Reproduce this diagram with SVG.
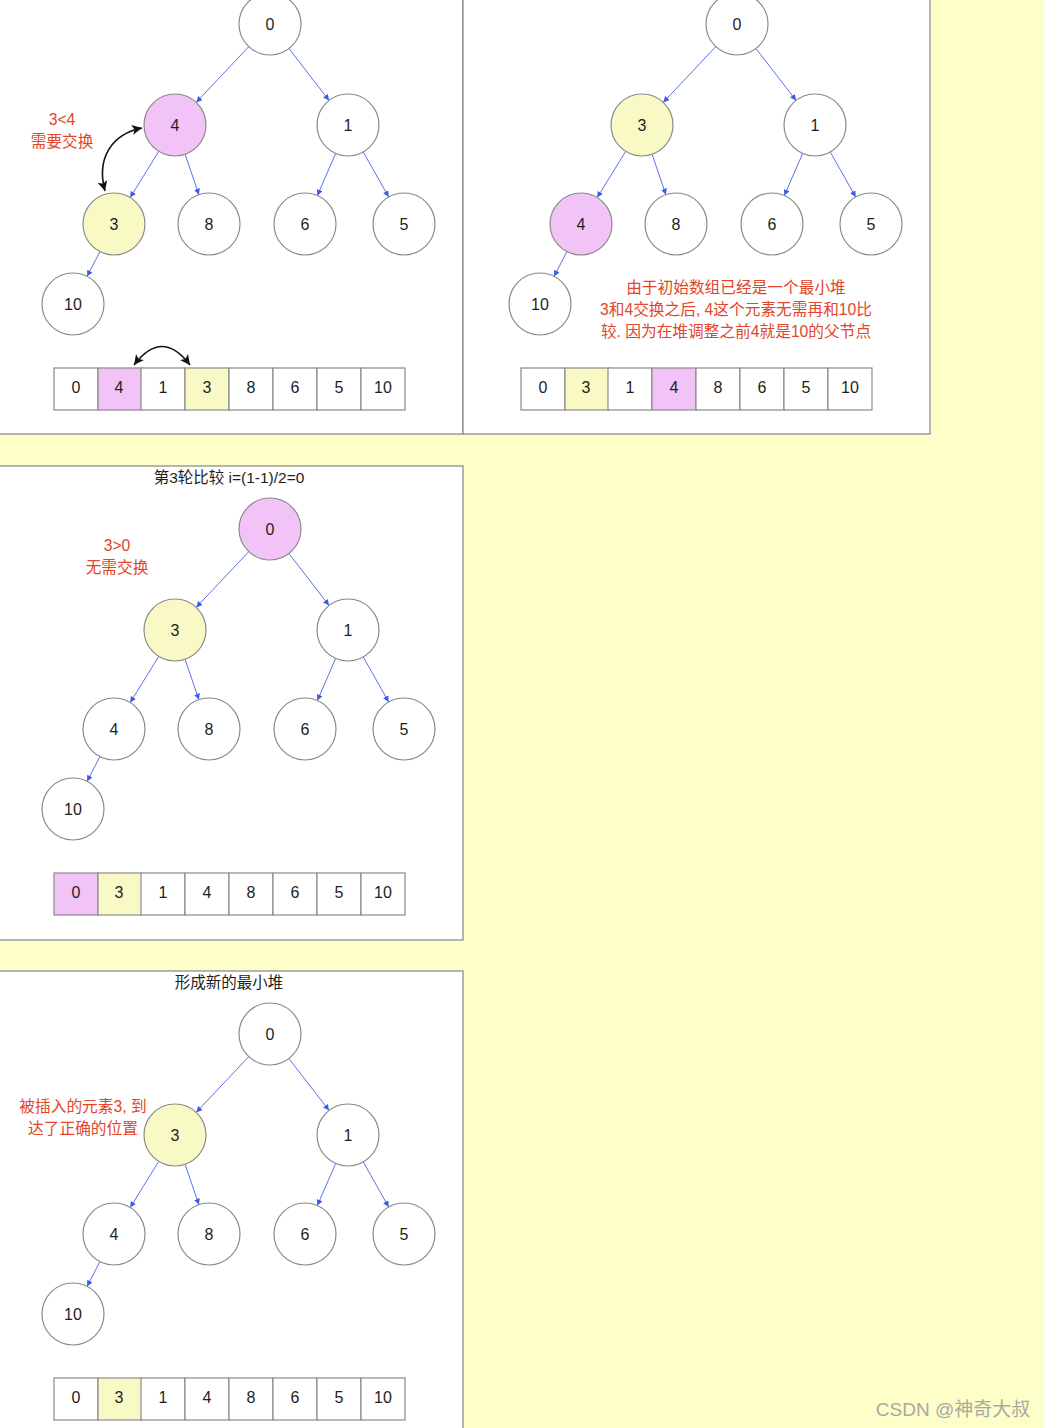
<svg xmlns="http://www.w3.org/2000/svg" width="1044" height="1428" viewBox="0 0 1044 1428">
<defs>
<style>
.bg{fill:#fefec9}
.panel{fill:#ffffff;stroke:#8e8e8e;stroke-width:1.3}
.n{fill:#ffffff;stroke:#8a8a8a;stroke-width:1.2}
.c{fill:#ffffff;stroke:#8a8a8a;stroke-width:1.2}
.pk{fill:#f1c3f6}
.yl{fill:#f9f9c6}
.t{font-family:"Liberation Sans","Noto Sans CJK SC",sans-serif;font-size:16px;fill:#1e1e1e;text-anchor:middle;dominant-baseline:central}
.red{font-family:"Liberation Sans","Noto Sans CJK SC",sans-serif;font-size:15.7px;fill:#e2452b;text-anchor:middle;dominant-baseline:central}
.ttl{font-family:"Liberation Sans","Noto Sans CJK SC",sans-serif;font-size:15.5px;fill:#1e1e1e;text-anchor:middle;dominant-baseline:central}
.e{stroke:#5a72ee;stroke-width:1;fill:none;marker-end:url(#ab)}
.sw{stroke:#111;stroke-width:1.6;fill:none;marker-start:url(#ak);marker-end:url(#ak)}
.wm{font-family:"Liberation Sans","Noto Sans CJK SC",sans-serif;font-size:19px;fill:#a9a9a3;text-anchor:middle;dominant-baseline:central}
</style>
<marker id="ab" markerUnits="userSpaceOnUse" markerWidth="8" markerHeight="8" refX="6" refY="3" orient="auto"><path d="M0,0 L6,3 L0,6 Z" fill="#3b5bea"/></marker>
<marker id="ak" markerUnits="userSpaceOnUse" markerWidth="12" markerHeight="12" refX="10" refY="5" orient="auto-start-reverse"><path d="M0,0 L10,5 L0,10 L2.5,5 Z" fill="#111"/></marker>
</defs>
<rect class="bg" x="0" y="0" width="1044" height="1428"/>

<!-- Panel 1 -->
<g id="panel1">
<rect class="panel" x="-2" y="-10" width="465" height="444"/>
<g id="p1-connectors">
<line class="e" x1="248.8" y1="46.6" x2="196.2" y2="102.4"/>
<line class="e" x1="288.9" y1="48.5" x2="329.1" y2="100.5"/>
<line class="e" x1="158.7" y1="151.4" x2="130.2" y2="197.6"/>
<line class="e" x1="185.1" y1="154.3" x2="198.9" y2="194.7"/>
<line class="e" x1="335.7" y1="153.4" x2="317.3" y2="195.6"/>
<line class="e" x1="363.3" y1="152" x2="388.7" y2="197"/>
<line class="e" x1="99.9" y1="251.6" x2="87.1" y2="276.4"/>
<path class="sw" d="M105 191 C 96 158 112 134 142 128"/>
<path class="sw" d="M134 365 Q 162 328 190 365"/>
</g>
<g id="p1-n0"><circle class="n" cx="270" cy="24" r="31"/><text class="t" x="270" y="24">0</text></g>
<g id="p1-n4"><circle class="n pk" cx="175" cy="125" r="31"/><text class="t" x="175" y="125">4</text></g>
<g id="p1-n1"><circle class="n" cx="348" cy="125" r="31"/><text class="t" x="348" y="125">1</text></g>
<g id="p1-n3"><circle class="n yl" cx="114" cy="224" r="31"/><text class="t" x="114" y="224">3</text></g>
<g id="p1-n8"><circle class="n" cx="209" cy="224" r="31"/><text class="t" x="209" y="224">8</text></g>
<g id="p1-n6"><circle class="n" cx="305" cy="224" r="31"/><text class="t" x="305" y="224">6</text></g>
<g id="p1-n5"><circle class="n" cx="404" cy="224" r="31"/><text class="t" x="404" y="224">5</text></g>
<g id="p1-n10"><circle class="n" cx="73" cy="304" r="31"/><text class="t" x="73" y="304">10</text></g>
<g id="p1-note"><text class="red" x="62" y="119">3&lt;4</text><text class="red" x="62" y="141">需要交换</text></g>
<g id="p1-array">
<rect class="c" x="54" y="368" width="44" height="42"/><text class="t" x="76" y="387">0</text>
<rect class="c pk" x="98" y="368" width="44" height="42"/><text class="t" x="119" y="387">4</text>
<rect class="c" x="141" y="368" width="44" height="42"/><text class="t" x="163" y="387">1</text>
<rect class="c yl" x="185" y="368" width="44" height="42"/><text class="t" x="207" y="387">3</text>
<rect class="c" x="229" y="368" width="44" height="42"/><text class="t" x="251" y="387">8</text>
<rect class="c" x="273" y="368" width="44" height="42"/><text class="t" x="295" y="387">6</text>
<rect class="c" x="317" y="368" width="44" height="42"/><text class="t" x="339" y="387">5</text>
<rect class="c" x="361" y="368" width="44" height="42"/><text class="t" x="383" y="387">10</text>
</g>
</g>

<!-- Panel 2 -->
<g id="panel2">
<rect class="panel" x="463" y="-10" width="467" height="444"/>
<g id="p2-connectors">
<line class="e" x1="715.8" y1="46.6" x2="663.2" y2="102.4"/>
<line class="e" x1="755.9" y1="48.5" x2="796.1" y2="100.5"/>
<line class="e" x1="625.7" y1="151.4" x2="597.2" y2="197.6"/>
<line class="e" x1="652.1" y1="154.3" x2="665.9" y2="194.7"/>
<line class="e" x1="802.7" y1="153.4" x2="784.3" y2="195.6"/>
<line class="e" x1="830.3" y1="152" x2="855.7" y2="197"/>
<line class="e" x1="566.9" y1="251.6" x2="554.1" y2="276.4"/>
</g>
<g id="p2-n0"><circle class="n" cx="737" cy="24" r="31"/><text class="t" x="737" y="24">0</text></g>
<g id="p2-n3"><circle class="n yl" cx="642" cy="125" r="31"/><text class="t" x="642" y="125">3</text></g>
<g id="p2-n1"><circle class="n" cx="815" cy="125" r="31"/><text class="t" x="815" y="125">1</text></g>
<g id="p2-n4"><circle class="n pk" cx="581" cy="224" r="31"/><text class="t" x="581" y="224">4</text></g>
<g id="p2-n8"><circle class="n" cx="676" cy="224" r="31"/><text class="t" x="676" y="224">8</text></g>
<g id="p2-n6"><circle class="n" cx="772" cy="224" r="31"/><text class="t" x="772" y="224">6</text></g>
<g id="p2-n5"><circle class="n" cx="871" cy="224" r="31"/><text class="t" x="871" y="224">5</text></g>
<g id="p2-n10"><circle class="n" cx="540" cy="304" r="31"/><text class="t" x="540" y="304">10</text></g>
<g id="p2-note">
<text class="red" x="736" y="287">由于初始数组已经是一个最小堆</text>
<text class="red" x="736" y="309">3和4交换之后, 4这个元素无需再和10比</text>
<text class="red" x="736" y="331">较. 因为在堆调整之前4就是10的父节点</text>
</g>
<g id="p2-array">
<rect class="c" x="521" y="368" width="44" height="42"/><text class="t" x="543" y="387">0</text>
<rect class="c yl" x="565" y="368" width="44" height="42"/><text class="t" x="586" y="387">3</text>
<rect class="c" x="608" y="368" width="44" height="42"/><text class="t" x="630" y="387">1</text>
<rect class="c pk" x="652" y="368" width="44" height="42"/><text class="t" x="674" y="387">4</text>
<rect class="c" x="696" y="368" width="44" height="42"/><text class="t" x="718" y="387">8</text>
<rect class="c" x="740" y="368" width="44" height="42"/><text class="t" x="762" y="387">6</text>
<rect class="c" x="784" y="368" width="44" height="42"/><text class="t" x="806" y="387">5</text>
<rect class="c" x="828" y="368" width="44" height="42"/><text class="t" x="850" y="387">10</text>
</g>
</g>

<!-- Panel 3 -->
<g id="panel3">
<rect class="panel" x="-2" y="466" width="465" height="474"/>
<text class="ttl" x="229" y="477">第3轮比较 i=(1-1)/2=0</text>
<g id="p3-connectors">
<line class="e" x1="248.8" y1="551.6" x2="196.2" y2="607.4"/>
<line class="e" x1="288.9" y1="553.5" x2="329.1" y2="605.5"/>
<line class="e" x1="158.7" y1="656.4" x2="130.2" y2="702.6"/>
<line class="e" x1="185.1" y1="659.3" x2="198.9" y2="699.7"/>
<line class="e" x1="335.7" y1="658.4" x2="317.3" y2="700.6"/>
<line class="e" x1="363.3" y1="657" x2="388.7" y2="702"/>
<line class="e" x1="99.9" y1="756.6" x2="87.1" y2="781.4"/>
</g>
<g id="p3-n0"><circle class="n pk" cx="270" cy="529" r="31"/><text class="t" x="270" y="529">0</text></g>
<g id="p3-n3"><circle class="n yl" cx="175" cy="630" r="31"/><text class="t" x="175" y="630">3</text></g>
<g id="p3-n1"><circle class="n" cx="348" cy="630" r="31"/><text class="t" x="348" y="630">1</text></g>
<g id="p3-n4"><circle class="n" cx="114" cy="729" r="31"/><text class="t" x="114" y="729">4</text></g>
<g id="p3-n8"><circle class="n" cx="209" cy="729" r="31"/><text class="t" x="209" y="729">8</text></g>
<g id="p3-n6"><circle class="n" cx="305" cy="729" r="31"/><text class="t" x="305" y="729">6</text></g>
<g id="p3-n5"><circle class="n" cx="404" cy="729" r="31"/><text class="t" x="404" y="729">5</text></g>
<g id="p3-n10"><circle class="n" cx="73" cy="809" r="31"/><text class="t" x="73" y="809">10</text></g>
<g id="p3-note"><text class="red" x="117" y="545">3&gt;0</text><text class="red" x="117" y="567">无需交换</text></g>
<g id="p3-array">
<rect class="c pk" x="54" y="873" width="44" height="42"/><text class="t" x="76" y="892">0</text>
<rect class="c yl" x="98" y="873" width="44" height="42"/><text class="t" x="119" y="892">3</text>
<rect class="c" x="141" y="873" width="44" height="42"/><text class="t" x="163" y="892">1</text>
<rect class="c" x="185" y="873" width="44" height="42"/><text class="t" x="207" y="892">4</text>
<rect class="c" x="229" y="873" width="44" height="42"/><text class="t" x="251" y="892">8</text>
<rect class="c" x="273" y="873" width="44" height="42"/><text class="t" x="295" y="892">6</text>
<rect class="c" x="317" y="873" width="44" height="42"/><text class="t" x="339" y="892">5</text>
<rect class="c" x="361" y="873" width="44" height="42"/><text class="t" x="383" y="892">10</text>
</g>
</g>

<!-- Panel 4 -->
<g id="panel4">
<rect class="panel" x="-2" y="971" width="465" height="470"/>
<text class="ttl" x="229" y="982">形成新的最小堆</text>
<g id="p4-connectors">
<line class="e" x1="248.8" y1="1056.6" x2="196.2" y2="1112.4"/>
<line class="e" x1="288.9" y1="1058.5" x2="329.1" y2="1110.5"/>
<line class="e" x1="158.7" y1="1161.4" x2="130.2" y2="1207.6"/>
<line class="e" x1="185.1" y1="1164.3" x2="198.9" y2="1204.7"/>
<line class="e" x1="335.7" y1="1163.4" x2="317.3" y2="1205.6"/>
<line class="e" x1="363.3" y1="1162" x2="388.7" y2="1207"/>
<line class="e" x1="99.9" y1="1261.6" x2="87.1" y2="1286.4"/>
</g>
<g id="p4-n0"><circle class="n" cx="270" cy="1034" r="31"/><text class="t" x="270" y="1034">0</text></g>
<g id="p4-n3"><circle class="n yl" cx="175" cy="1135" r="31"/><text class="t" x="175" y="1135">3</text></g>
<g id="p4-n1"><circle class="n" cx="348" cy="1135" r="31"/><text class="t" x="348" y="1135">1</text></g>
<g id="p4-n4"><circle class="n" cx="114" cy="1234" r="31"/><text class="t" x="114" y="1234">4</text></g>
<g id="p4-n8"><circle class="n" cx="209" cy="1234" r="31"/><text class="t" x="209" y="1234">8</text></g>
<g id="p4-n6"><circle class="n" cx="305" cy="1234" r="31"/><text class="t" x="305" y="1234">6</text></g>
<g id="p4-n5"><circle class="n" cx="404" cy="1234" r="31"/><text class="t" x="404" y="1234">5</text></g>
<g id="p4-n10"><circle class="n" cx="73" cy="1314" r="31"/><text class="t" x="73" y="1314">10</text></g>
<g id="p4-note"><text class="red" x="83" y="1106">被插入的元素3, 到</text><text class="red" x="83" y="1128">达了正确的位置</text></g>
<g id="p4-array">
<rect class="c" x="54" y="1378" width="44" height="42"/><text class="t" x="76" y="1397">0</text>
<rect class="c yl" x="98" y="1378" width="44" height="42"/><text class="t" x="119" y="1397">3</text>
<rect class="c" x="141" y="1378" width="44" height="42"/><text class="t" x="163" y="1397">1</text>
<rect class="c" x="185" y="1378" width="44" height="42"/><text class="t" x="207" y="1397">4</text>
<rect class="c" x="229" y="1378" width="44" height="42"/><text class="t" x="251" y="1397">8</text>
<rect class="c" x="273" y="1378" width="44" height="42"/><text class="t" x="295" y="1397">6</text>
<rect class="c" x="317" y="1378" width="44" height="42"/><text class="t" x="339" y="1397">5</text>
<rect class="c" x="361" y="1378" width="44" height="42"/><text class="t" x="383" y="1397">10</text>
</g>
</g>

<text class="wm" x="953" y="1409">CSDN @神奇大叔</text>
</svg>
